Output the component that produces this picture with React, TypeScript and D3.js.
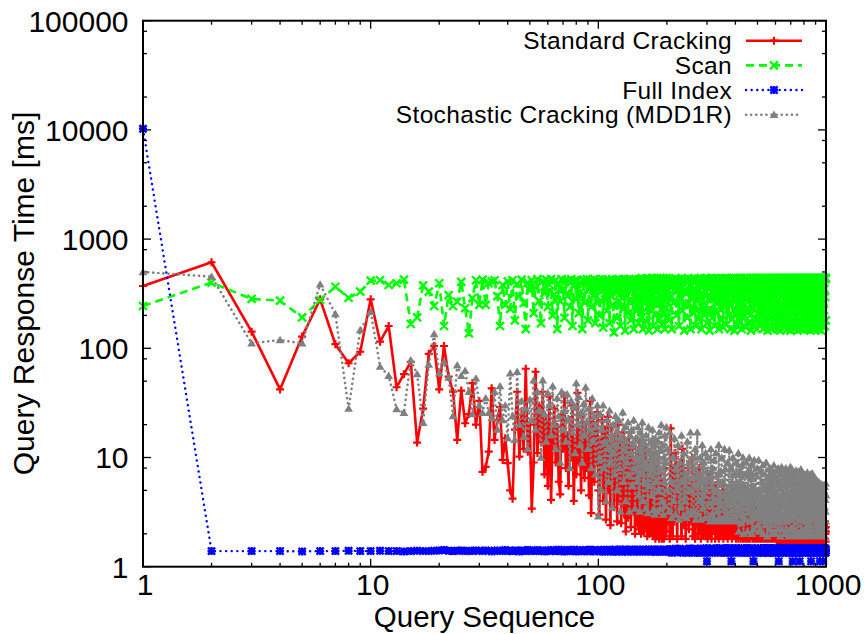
import React from "react";
import * as d3 from "d3";

// Query sequence numbers at which values were read: every query up to 200, then every 2nd query
const QUERIES: number[] = d3.range(1, 201).concat(d3.range(202, 1001, 2));

const SERIES_NAMES = ["Standard Cracking", "Scan", "Full Index", "Stochastic Cracking (MDD1R)"];

const standardCracking: number[] = [
  372, 614, 142, 42, 128, 281, 109, 73, 93, 281,
  115, 160, 44, 58, 75, 13.7, 28, 89, 105, 42,
  105, 55, 40, 14.5, 41, 20.6, 25, 48, 20, 33,
  7.4, 8.2, 11.3, 43, 14.5, 22, 29, 9.5, 15, 8.9,
  5, 4.2, 18, 40, 10.2, 25, 12, 65, 11.3, 20,
  3.4, 9, 61, 11, 30, 14, 40, 7, 22, 5.5,
  36, 4.1, 15, 28, 9, 19, 6, 4.6, 25, 12,
  37, 8, 16, 5.5, 22, 10, 30, 4.0, 14, 7,
  39, 9, 18, 5, 24, 11, 6.5, 20, 8, 15,
  4.5, 33, 3.1, 12, 21, 6, 17, 9, 26, 5,
  3.0, 14, 7, 22, 4, 11, 18, 2.7, 9, 23.6,
  5, 13, 2.4, 19, 7, 10, 3.5, 16, 6, 12,
  2.6, 20, 8, 4, 14, 2.5, 11, 5.5, 17, 3,
  9, 2.1, 13, 6.5, 2.8, 15, 4.5, 10, 2.3, 7,
  12, 3.2, 8, 5, 2.0, 9, 3.8, 11, 2.4, 6,
  2.2, 14, 4, 2.0, 8.5, 3, 10, 2.1, 6, 3.6,
  12, 2.3, 5, 1.9, 9, 2.8, 7, 2.0, 11, 4,
  2.1, 6.5, 3.2, 1.9, 10, 2.5, 4.5, 1.8, 8, 3,
  1.9, 5.5, 2.4, 9, 1.8, 3.6, 7, 2.0, 4.2, 1.8,
  6, 2.2, 3.4, 1.8, 8, 2.6, 1.9, 5, 2.1, 3.8,
  2.6, 5, 1.8, 18.5, 3.5, 1.9, 8, 2.6, 11, 4.5,
  1.8, 6, 2.8, 9, 3.4, 1.9, 12, 4, 2.4, 7,
  1.8, 5, 3, 8, 2.2, 4.5, 6, 2.6, 10, 1.9,
  4, 2.8, 1.8, 7, 3.2, 5, 2.0, 4.2, 8, 2.5,
  1.8, 4.5, 3.2, 2.0, 6, 2.8, 4.6, 1.9, 5.5, 3,
  1.8, 4.8, 2.6, 7, 2.0, 3.8, 1.8, 5.2, 3.1, 2.2,
  4.4, 2.4, 1.8, 5.6, 3.3, 2.0, 4.8, 2.7, 1.8, 4.2,
  3.5, 1.9, 4.2, 2.2, 3.0, 5.5, 1.8, 2.8, 4.5, 2.0,
  3.6, 1.9, 4.8, 2.6, 1.8, 4.0, 3.1, 2.0, 4.6, 2.3,
  2.9, 3.8, 1.8, 4.4, 2.2, 3.4, 5.2, 1.9, 2.7, 4.0,
  1.8, 3.5, 2.3, 4.2, 2.8, 1.8, 3.9, 2.4, 4.3, 2.0,
  1.8, 3.2, 4.0, 2.1, 2.9, 1.8, 3.7, 2.5, 1.9, 3.4,
  1.8, 3.9, 2.2, 3.0, 1.8, 3.6, 2.4, 2.9, 1.8, 3.5,
  2.6, 1.8, 3.8, 2.0, 3.1, 2.2, 3.4, 1.8, 2.7, 3.6,
  1.9, 2.8, 1.8, 3.3, 2.2, 3.7, 2.5, 1.8, 3.0, 2.1,
  3.4, 1.8, 2.8, 2.1, 3.6, 1.8, 3.1, 2.3, 2.6, 3.3,
  1.8, 2.9, 2.1, 3.3, 1.8, 2.5, 3.6, 2.0, 2.8, 1.8,
  3.1, 2.0, 2.6, 1.8, 3.4, 2.2, 2.9, 1.8, 2.4, 3.2,
  1.8, 2.7, 2.0, 3.5, 2.2, 3.0, 1.8, 2.6, 3.3, 1.9,
  2.5, 1.8, 3.1, 2.1, 2.8, 1.8, 3.4, 2.2, 2.6, 1.8,
  2.4, 1.8, 2.0, 1.7, 2.7, 1.8, 2.2, 1.7, 2.5, 1.8,
  1.7, 2.8, 1.8, 2.1, 1.7, 2.4, 1.8, 2.6, 1.7, 2.0,
  2.3, 1.7, 1.8, 2.7, 1.7, 2.1, 1.8, 2.4, 1.7, 2.9,
  1.8, 2.0, 1.7, 2.5, 1.8, 2.2, 1.7, 2.8, 1.8, 2.1,
  1.7, 2.4, 1.8, 2.0, 1.7, 2.6, 1.8, 2.2, 1.7, 2.5,
  1.8, 2.1, 1.7, 2.7, 1.8, 2.0, 1.7, 2.4, 1.8, 2.2,
  2.6, 1.7, 2.0, 1.8, 2.3, 1.7, 2.5, 1.8, 2.1, 1.7,
  1.8, 2.4, 1.7, 2.2, 1.8, 2.7, 1.7, 2.0, 1.8, 2.3,
  1.7, 2.1, 1.8, 2.5, 1.7, 2.2, 1.8, 2.0, 1.7, 2.6,
  2.2, 1.7, 2.4, 1.8, 2.0, 1.7, 2.3, 1.8, 2.6, 1.7,
  1.8, 2.0, 1.7, 2.4, 1.8, 2.2, 1.7, 2.5, 1.8, 2.1,
  1.7, 2.3, 1.8, 2.0, 1.7, 2.6, 1.8, 2.1, 1.7, 2.4,
  2.0, 1.8, 2.5, 1.7, 2.2, 1.8, 2.0, 1.7, 2.3, 1.8,
  1.7, 2.4, 1.8, 2.1, 1.7, 2.7, 1.8, 2.0, 1.7, 2.2,
  2.5, 1.7, 2.0, 1.8, 2.3, 1.7, 2.1, 1.8, 2.4, 1.7,
  1.8, 2.2, 1.7, 2.6, 1.8, 2.0, 1.7, 2.3, 1.8, 2.1,
  1.7, 2.4, 1.8, 2.0, 1.7, 2.2, 1.8, 2.5, 1.7, 2.0,
  2.3, 1.8, 2.1, 1.7, 2.6, 1.8, 2.0, 1.7, 2.2, 1.8,
  1.7, 2.5, 1.8, 2.0, 1.7, 2.3, 1.8, 2.1, 1.7, 2.4,
  2.0, 1.8, 2.2, 1.7, 2.6, 1.8, 2.0, 1.7, 2.3, 2.1,
];

const scan: number[] = [
  244, 400, 283, 273, 192, 277, 366, 290, 330, 416,
  420, 380, 394, 425, 167, 192, 377, 330, 244, 394,
  160, 307, 244, 267, 406, 233, 137, 288, 420, 250,
  425, 250, 394, 410, 420, 300, 160, 380, 250, 410,
  230, 420, 180, 390, 300, 425, 260, 150, 400, 340,
  420, 210, 360, 430, 270, 170, 410, 320, 425, 240,
  380, 430, 200, 310, 420, 150, 390, 270, 430, 350,
  190, 420, 300, 410, 240, 430, 160, 370, 420, 280,
  420, 210, 400, 330, 150, 425, 260, 390, 430, 180,
  350, 420, 240, 410, 300, 430, 170, 380, 260, 420,
  200, 410, 330, 430, 155, 390, 280, 425, 220, 360,
  420, 170, 400, 300, 430, 250, 140, 410, 350, 425,
  190, 380, 430, 270, 160, 420, 320, 400, 230, 430,
  145, 390, 300, 425, 210, 370, 430, 260, 180, 410,
  340, 425, 150, 400, 290, 430, 220, 380, 420, 170,
  430, 260, 410, 190, 440, 320, 150, 400, 280, 430,
  350, 420, 175, 440, 240, 390, 145, 430, 310, 410,
  220, 440, 360, 160, 420, 280, 435, 200, 390, 330,
  440, 150, 410, 260, 430, 185, 370, 440, 300, 165,
  420, 340, 440, 210, 395, 150, 430, 270, 440, 190,
  400, 180, 430, 300, 150, 420, 260, 380, 440, 200,
  350, 430, 160, 410, 280, 440, 220, 390, 145, 430,
  320, 420, 190, 440, 260, 370, 150, 430, 300, 410,
  210, 440, 340, 160, 420, 270, 435, 185, 400, 310,
  440, 150, 380, 250, 430, 200, 410, 330, 440, 170,
  360, 430, 230, 145, 420, 290, 440, 190, 400, 320,
  435, 160, 380, 260, 440, 210, 420, 300, 150, 430,
  340, 440, 180, 410, 270, 435, 155, 390, 240, 440,
  310, 420, 165, 440, 280, 400, 200, 435, 350, 150,
  430, 250, 440, 185, 380, 320, 440, 145, 420, 270,
  440, 210, 400, 160, 435, 300, 420, 230, 440, 175,
  390, 440, 150, 360, 430, 260, 440, 195, 410, 330,
  440, 155, 420, 280, 440, 220, 390, 170, 435, 310,
  430, 200, 440, 145, 400, 340, 440, 240, 420, 160,
  440, 290, 410, 180, 435, 260, 440, 150, 380, 320,
  440, 210, 430, 165, 440, 300, 420, 190, 440, 250,
  170, 440, 350, 420, 150, 430, 280, 440, 205, 395,
  440, 160, 410, 330, 440, 235, 145, 430, 300, 440,
  265, 440, 185, 420, 360, 440, 150, 405, 440, 220,
  430, 310, 155, 440, 250, 420, 440, 175, 385, 440,
  200, 440, 340, 160, 430, 440, 270, 150, 420, 360,
  440, 225, 410, 440, 145, 390, 300, 440, 190, 430,
  345, 440, 160, 420, 440, 280, 205, 440, 375, 155,
  440, 250, 430, 440, 180, 400, 320, 440, 150, 425,
  290, 440, 170, 440, 415, 230, 440, 355, 145, 440,
  210, 430, 440, 300, 165, 440, 390, 250, 440, 180,
  440, 335, 150, 425, 440, 270, 195, 440, 410, 160,
  380, 440, 240, 440, 145, 430, 305, 440, 215, 420,
  440, 175, 395, 440, 285, 150, 440, 360, 440, 230,
  165, 440, 420, 260, 440, 190, 340, 440, 150, 435,
  440, 310, 440, 200, 415, 440, 155, 370, 440, 245,
  425, 160, 440, 330, 440, 220, 440, 150, 400, 440,
  275, 440, 185, 440, 355, 430, 145, 440, 295, 440,
  205, 420, 440, 165, 390, 440, 260, 440, 150, 430,
  440, 340, 440, 230, 150, 440, 410, 440, 185, 365,
  440, 155, 435, 280, 440, 200, 440, 320, 440, 170,
  395, 440, 245, 440, 150, 425, 440, 300, 440, 210,
  440, 165, 440, 375, 440, 250, 145, 440, 330, 440,
  190, 440, 420, 440, 270, 440, 155, 405, 440, 225,
  440, 350, 440, 160, 440, 295, 430, 440, 180, 440,
];

const fullIndex: number[] = [
  10250, 1.39, 1.39, 1.39, 1.38, 1.39, 1.39, 1.40, 1.39, 1.39,
  1.40, 1.39, 1.39, 1.38, 1.39, 1.40, 1.39, 1.39, 1.40, 1.41,
  1.42, 1.40, 1.39, 1.40, 1.41, 1.39, 1.40, 1.39, 1.41, 1.40,
  1.39, 1.41, 1.40, 1.38, 1.40, 1.41, 1.39, 1.40, 1.42, 1.39,
  1.40, 1.39, 1.41, 1.40, 1.38, 1.41, 1.40, 1.39, 1.42, 1.40,
  1.41, 1.39, 1.40, 1.42, 1.39, 1.40, 1.41, 1.38, 1.40, 1.41,
  1.39, 1.42, 1.40, 1.41, 1.39, 1.40, 1.43, 1.39, 1.41, 1.40,
  1.38, 1.41, 1.42, 1.39, 1.40, 1.41, 1.39, 1.43, 1.40, 1.38,
  1.41, 1.40, 1.42, 1.39, 1.41, 1.40, 1.38, 1.42, 1.40, 1.41,
  1.39, 1.43, 1.40, 1.41, 1.38, 1.42, 1.40, 1.39, 1.41, 1.40,
  1.41, 1.38, 1.42, 1.40, 1.39, 1.43, 1.37, 1.41, 1.40, 1.42,
  1.39, 1.43, 1.38, 1.41, 1.40, 1.37, 1.42, 1.39, 1.43, 1.40,
  1.38, 1.41, 1.42, 1.39, 1.44, 1.40, 1.37, 1.42, 1.41, 1.38,
  1.43, 1.39, 1.40, 1.42, 1.37, 1.41, 1.44, 1.38, 1.40, 1.42,
  1.39, 1.43, 1.37, 1.41, 1.42, 1.38, 1.40, 1.44, 1.39, 1.41,
  1.42, 1.37, 1.43, 1.40, 1.38, 1.41, 1.44, 1.39, 1.42, 1.40,
  1.37, 1.43, 1.41, 1.38, 1.42, 1.40, 1.44, 1.39, 1.41, 1.37,
  1.43, 1.40, 1.38, 1.42, 1.41, 1.44, 1.39, 1.37, 1.42, 1.40,
  1.41, 1.38, 1.44, 1.40, 1.42, 1.37, 1.43, 1.39, 1.41, 1.38,
  1.42, 1.40, 1.37, 1.44, 1.39, 1.41, 1.43, 1.38, 1.40, 1.42,
  1.42, 1.36, 1.45, 1.39, 1.34, 1.44, 1.40, 1.37, 1.46, 1.38,
  1.43, 1.35, 1.41, 1.46, 1.37, 1.40, 1.44, 1.34, 1.42, 1.39,
  1.45, 1.38, 1.35, 1.43, 1.40, 1.47, 1.36, 1.41, 1.34, 1.44,
  1.39, 1.46, 1.35, 1.42, 1.37, 1.45, 1.38, 1.40, 1.34, 1.43,
  1.47, 1.36, 1.41, 1.34, 1.45, 1.38, 1.43, 1.35, 1.48, 1.12,
  1.34, 1.44, 1.37, 1.46, 1.40, 1.39, 1.35, 1.43, 1.38, 1.47,
  1.36, 1.42, 1.34, 1.45, 1.39, 1.48, 1.35, 1.41, 1.44, 1.37,
  1.46, 1.34, 1.40, 1.47, 1.36, 1.43, 1.38, 1.45, 1.34, 1.42,
  1.37, 1.48, 1.35, 1.41, 1.44, 1.39, 1.46, 1.34, 1.41, 1.47,
  1.35, 1.12, 1.38, 1.48, 1.34, 1.45, 1.40, 1.36, 1.47, 1.39,
  1.44, 1.34, 1.46, 1.38, 1.42, 1.35, 1.48, 1.40, 1.36, 1.45,
  1.38, 1.47, 1.34, 1.41, 1.43, 1.36, 1.46, 1.39, 1.48, 1.35,
  1.42, 1.34, 1.47, 1.38, 1.44, 1.35, 1.46, 1.40, 1.36, 1.48,
  1.34, 1.41, 1.45, 1.37, 1.43, 1.35, 1.47, 1.39, 1.34, 1.12,
  1.40, 1.36, 1.48, 1.34, 1.44, 1.38, 1.42, 1.35, 1.45, 1.37,
  1.47, 1.34, 1.42, 1.36, 1.46, 1.38, 1.35, 1.44, 1.48, 1.40,
  1.35, 1.45, 1.38, 1.47, 1.34, 1.43, 1.40, 1.36, 1.48, 1.41,
  1.44, 1.36, 1.48, 1.35, 1.42, 1.39, 1.46, 1.34, 1.41, 1.45,
  1.38, 1.47, 1.34, 1.44, 1.40, 1.36, 1.48, 1.35, 1.43, 1.39,
  1.46, 1.34, 1.41, 1.48, 1.37, 1.44, 1.35, 1.42, 1.47, 1.38,
  1.34, 1.45, 1.39, 1.36, 1.48, 1.41, 1.35, 1.46, 1.40, 1.12,
  1.43, 1.35, 1.47, 1.38, 1.44, 1.34, 1.46, 1.40, 1.36, 1.48,
  1.37, 1.44, 1.34, 1.46, 1.39, 1.48, 1.35, 1.42, 1.45, 1.36,
  1.47, 1.35, 1.41, 1.44, 1.34, 1.48, 1.38, 1.36, 1.46, 1.40,
  1.34, 1.46, 1.39, 1.48, 1.35, 1.43, 1.41, 1.47, 1.36, 1.44,
  1.40, 1.35, 1.48, 1.37, 1.45, 1.34, 1.12, 1.39, 1.47, 1.36,
  1.45, 1.38, 1.34, 1.47, 1.41, 1.36, 1.48, 1.35, 1.43, 1.39,
  1.36, 1.48, 1.42, 1.34, 1.46, 1.39, 1.37, 1.45, 1.35, 1.47,
  1.44, 1.34, 1.12, 1.40, 1.48, 1.36, 1.43, 1.38, 1.46, 1.35,
  1.39, 1.47, 1.35, 1.45, 1.34, 1.48, 1.41, 1.37, 1.44, 1.36,
  1.48, 1.35, 1.43, 1.38, 1.46, 1.34, 1.40, 1.47, 1.36, 1.44,
  1.35, 1.45, 1.39, 1.48, 1.37, 1.42, 1.34, 1.46, 1.40, 1.38,
  1.46, 1.36, 1.48, 1.34, 1.43, 1.39, 1.47, 1.35, 1.44, 1.12,
  1.38, 1.48, 1.35, 1.45, 1.41, 1.34, 1.46, 1.37, 1.48, 1.36,
  1.44, 1.34, 1.47, 1.39, 1.36, 1.48, 1.35, 1.42, 1.45, 1.38,
  1.36, 1.46, 1.40, 1.34, 1.48, 1.37, 1.44, 1.35, 1.47, 1.41,
  1.47, 1.35, 1.42, 1.48, 1.34, 1.45, 1.38, 1.36, 1.46, 1.12,
  1.39, 1.48, 1.34, 1.44, 1.37, 1.47, 1.35, 1.43, 1.40, 1.46,
  1.34, 1.45, 1.38, 1.48, 1.36, 1.12, 1.46, 1.35, 1.42, 1.47,
  1.44, 1.36, 1.48, 1.35, 1.43, 1.39, 1.47, 1.34, 1.45, 1.40,
];

const stochasticCracking: number[] = [
  500, 453, 111, 119, 111, 385, 206, 28, 147, 216,
  68, 56, 27.8, 25.7, 78, 58, 20.8, 71, 135, 59,
  75, 54, 24, 70, 56, 62.5, 40, 25, 53, 30,
  25.7, 35, 25.7, 23, 40, 18, 45, 22, 30, 15,
  59, 24, 14.5, 61, 20, 33, 15.5, 28, 12, 34,
  22, 51, 18, 40, 27, 10, 51, 25, 14, 39,
  30, 16, 45, 20, 12, 35, 24, 9, 40, 18,
  27, 14, 38, 22, 8, 33, 17, 29, 11, 48,
  20, 36, 13, 26, 9, 31, 16, 44, 21, 12,
  28, 18, 8, 35, 14, 24, 7, 19, 30, 2.9,
  10, 25, 5, 18, 30, 8, 14, 4, 22, 12,
  6, 27, 9, 16, 3.5, 20, 11, 7, 24, 13,
  5, 17, 22, 8, 3.2, 15, 10, 26, 6, 12,
  19, 4, 14, 9, 21, 7, 3.2, 16, 11, 18,
  5.5, 13, 22, 8, 3.4, 15, 10, 6, 19, 4.5,
  12, 3.2, 17, 7, 10, 21, 4, 14, 6, 9,
  3.4, 16, 8, 12, 3.1, 19, 5.5, 11, 7, 14,
  4.5, 10, 18, 3.3, 8, 13, 3.0, 15, 6, 11,
  9, 3.2, 14, 5, 17, 7.5, 3.4, 12, 20, 4,
  8, 13, 3.0, 10, 6, 16, 3.6, 9, 19, 5,
  12, 3.2, 17, 6, 2.8, 10, 4, 15, 3.0, 8,
  5, 13, 2.7, 9, 3.5, 16, 6, 2.9, 11, 4,
  7, 2.8, 14, 3.2, 9, 5, 17, 3.0, 6.5, 10,
  3.2, 8, 12, 2.7, 5.5, 17, 3.0, 7, 4, 10,
  2.7, 6, 13, 3.4, 9, 4.5, 2.8, 11, 5, 7.5,
  2.8, 10, 3.8, 6.5, 2.6, 12, 5.5, 3, 8, 2.7,
  9.5, 4.2, 2.6, 11, 5, 3.2, 7, 2.7, 13, 4,
  2.6, 7.5, 3.6, 10, 2.7, 6, 4.4, 2.8, 12, 3.4,
  7.8, 2.6, 5, 3.9, 9, 2.7, 4.6, 11.7, 3.1, 5.6,
  2.6, 8, 4, 3.3, 10, 2.6, 5.4, 3.6, 7, 2.9,
  4.8, 9, 2.6, 5.8, 3.5, 11, 2.1, 4.4, 7.4, 3.2,
  5.2, 2.5, 8.5, 4.1, 3, 10, 2.0, 5.6, 3.8, 7,
  2.7, 4.6, 9, 3.4, 5.2, 2.1, 7.5, 4, 3.1, 10,
  4.8, 2.6, 6.8, 3.6, 8.5, 2.0, 4.4, 7, 3, 5.4,
  2.2, 9.5, 3.8, 5, 2.8, 7, 4.2, 3.2, 8, 2.4,
  4.6, 3.4, 9.5, 2.1, 5, 3.6, 2.2, 7.5, 3, 4.2,
  2.8, 6, 3.4, 8.5, 2.0, 5.2, 4, 2.6, 7, 3.8,
  5.6, 2.4, 9, 3.2, 4.6, 1.9, 6.5, 3.6, 2.7, 7.8,
  3.1, 5.4, 2.2, 8, 4.2, 2.9, 6.2, 3.5, 2.0, 5,
  7.2, 2.6, 4.4, 3.3, 8.5, 2.1, 5.6, 3.8, 2.8, 6.6,
  2.0, 4.8, 7.5, 3.2, 2.6, 5.8, 3.6, 8, 2.2, 4.2,
  6, 2.8, 3.9, 7, 1.9, 5.2, 3.4, 2.6, 8.2, 4,
  3, 6.4, 2.2, 4.6, 7.6, 2.9, 3.7, 5.5, 2.0, 6.8,
  4.4, 2.6, 8, 3.5, 2.1, 5.8, 3.1, 7, 2.7, 4.8,
  6.2, 3.3, 1.9, 7.4, 4.1, 2.8, 5.5, 3.6, 8.2, 2.2,
  3.8, 6.6, 2.7, 4.5, 7.8, 3.1, 2.0, 5.6, 3.4, 6.9,
  2.3, 4.9, 7.2, 3.3, 1.9, 6, 3.7, 2.8, 7.6, 4.3,
  5.4, 2.1, 3.9, 6.8, 2.9, 4.6, 7.4, 3.2, 2.0, 5.8,
  3.5, 7, 2.7, 4.2, 6.2, 1.9, 3.8, 7.8, 3, 5,
  2.2, 6.4, 4, 2.6, 7.2, 3.4, 5.2, 2.0, 6.6, 3.7,
  4.8, 2.7, 7, 3.6, 1.9, 5.9, 4.1, 3, 6.8, 2.3,
  5.6, 3.3, 2.0, 7.3, 4.4, 2.8, 6.1, 3.5, 2.1, 5,
  3.9, 6.6, 2.4, 4.6, 3.1, 7, 1.9, 5.4, 3.7, 2.9,
  6.3, 3.4, 2.1, 5.1, 7.2, 2.8, 4.2, 3.2, 6, 2.0,
  4.5, 2.7, 6.7, 3.6, 1.9, 5.6, 3.9, 6.4, 2.4, 4.1,
  3.2, 5.8, 2.2, 4.7, 6.2, 2.9, 3.6, 5.2, 1.9, 4.4,
  6, 3.1, 2.3, 5.4, 3.8, 2.0, 5.9, 3.4, 4.6, 2.6,
  3.6, 5.5, 2.1, 4.3, 3.1, 5.7, 1.9, 4.9, 3.5, 2.4,
  5.2, 3, 4.6, 2.2, 5.6, 3.7, 2.0, 4.4, 3.3, 5,
  2.3, 4.8, 3.5, 5.4, 1.9, 4.1, 3.2, 5.8, 2.6, 4.5,
];

const Y_TICKS = [1, 10, 100, 1000, 10000, 100000];
const Y_TICK_LABELS = ["1", "10", "100", "1000", "10000", "100000"];
const X_TICKS = [1, 10, 100, 1000];
const X_TICK_LABELS = ["1", "10", "100", "1000"];

const W = 865, H = 634;
const L = 143, R = 826, T = 20.7, B = 566.7;
const FONT = "'Liberation Sans', Arial, Helvetica, sans-serif";

type MarkerKind = "plus" | "cross" | "star" | "tri";

function markerPath(kind: MarkerKind, x: number, y: number): string {
  const s = 4;
  if (kind === "plus") return `M${x - s},${y}H${x + s}M${x},${y - s}V${y + s}`;
  if (kind === "cross") return `M${x - s},${y - s}L${x + s},${y + s}M${x - s},${y + s}L${x + s},${y - s}`;
  if (kind === "star") {
    const t = 3.6;
    return `M${x - s},${y}H${x + s}M${x},${y - s}V${y + s}M${x - t},${y - t}L${x + t},${y + t}M${x - t},${y + t}L${x + t},${y - t}`;
  }
  return `M${x},${y - 4.2}L${x + 4.4},${y + 3.2}L${x - 4.4},${y + 3.2}Z`;
}

const STYLES = [
  { color: "#ff0000", width: 2.6, dash: "none", marker: "plus" as MarkerKind, mw: 2.2 },
  { color: "#00ff00", width: 2.6, dash: "8 5", marker: "cross" as MarkerKind, mw: 2.4 },
  { color: "#0000ff", width: 2.4, dash: "0.1 5.5", marker: "star" as MarkerKind, mw: 2.4 },
  { color: "#808080", width: 2.6, dash: "0.1 5", marker: "tri" as MarkerKind, mw: 0 },
];

export default function App() {
  const x = d3.scaleLog().domain([1, 1000]).range([L, R]);
  const y = d3.scaleLog().domain([1, 100000]).range([B, T]);
  const seriesValues = [standardCracking, scan, fullIndex, stochasticCracking];

  const minorY: number[] = [];
  Y_TICKS.slice(0, -1).forEach((d) => [2, 5, 8].forEach((m) => minorY.push(d * m)));
  const minorX: number[] = [];
  X_TICKS.slice(0, -1).forEach((d) => d3.range(2, 10).forEach((m) => minorX.push(d * m)));

  const line = d3
    .line<[number, number]>()
    .x((d) => x(d[0]))
    .y((d) => y(d[1]));

  const legendRows = [40.7, 65.4, 90, 114.7];

  return (
    <svg width={W} height={H} style={{ position: "absolute", left: 0, top: 0, background: "#fff" }} fontFamily={FONT}>
      <rect x={0} y={0} width={W} height={H} fill="#fff" />
      <g stroke="#000" strokeWidth={1.3}>
        {Y_TICKS.map((t) => (
          <g key={"y" + t}>
            <line x1={L} x2={L + 8} y1={y(t)} y2={y(t)} />
            <line x1={R} x2={R - 8} y1={y(t)} y2={y(t)} />
          </g>
        ))}
        {minorY.map((t) => (
          <g key={"ym" + t}>
            <line x1={L} x2={L + 4} y1={y(t)} y2={y(t)} />
            <line x1={R} x2={R - 4} y1={y(t)} y2={y(t)} />
          </g>
        ))}
        {X_TICKS.map((t) => (
          <g key={"x" + t}>
            <line x1={x(t)} x2={x(t)} y1={B} y2={B - 8} />
            <line x1={x(t)} x2={x(t)} y1={T} y2={T + 8} />
          </g>
        ))}
        {minorX.map((t) => (
          <g key={"xm" + t}>
            <line x1={x(t)} x2={x(t)} y1={B} y2={B - 4} />
            <line x1={x(t)} x2={x(t)} y1={T} y2={T + 4} />
          </g>
        ))}
      </g>
      <g fontSize={30} fill="#000">
        {Y_TICKS.map((t, i) => (
          <text key={"yl" + t} x={128.5} y={y(t) + 10.8} textAnchor="end">
            {Y_TICK_LABELS[i]}
          </text>
        ))}
        {X_TICKS.map((t, i) => (
          <text key={"xl" + t} x={x(t) + 2} y={595} textAnchor="middle">
            {X_TICK_LABELS[i]}
          </text>
        ))}
      </g>
      <text x={484.5} y={627} fontSize={29.5} textAnchor="middle" fill="#000">
        Query Sequence
      </text>
      <text transform={`translate(34,${293.5}) rotate(-90)`} fontSize={30} textAnchor="middle" fill="#000">
        Query Response Time [ms]
      </text>
      <g>
        {seriesValues.map((vals, si) => {
          const st = STYLES[si];
          const n = Math.min(vals.length, QUERIES.length);
          const pts: [number, number][] = [];
          for (let i = 0; i < n; i++) pts.push([QUERIES[i], vals[i]]);
          const markers = pts.map((p) => markerPath(st.marker, x(p[0]), y(p[1]))).join("");
          return (
            <g key={"s" + si}>
              <path
                d={line(pts) || ""}
                fill="none"
                stroke={st.color}
                strokeWidth={st.width}
                strokeDasharray={st.dash}
                strokeLinecap={st.dash.startsWith("0.1") ? "round" : "butt"}
                strokeLinejoin="round"
              />
              <path
                d={markers}
                fill={st.marker === "tri" ? st.color : "none"}
                stroke={st.marker === "tri" ? "none" : st.color}
                strokeWidth={st.mw}
              />
            </g>
          );
        })}
      </g>
      <g fontSize={24.5} fill="#000" letterSpacing={0.35}>
        {SERIES_NAMES.map((name, i) => {
          const st = STYLES[i];
          const yy = legendRows[i];
          return (
            <g key={"lg" + i}>
              <text x={732} y={yy + 8.6} textAnchor="end">
                {name}
              </text>
              <line
                x1={746}
                x2={802}
                y1={yy}
                y2={yy}
                stroke={st.color}
                strokeWidth={st.width}
                strokeDasharray={st.dash}
                strokeLinecap={st.dash.startsWith("0.1") ? "round" : "butt"}
              />
              <path
                d={markerPath(st.marker, 774, yy)}
                fill={st.marker === "tri" ? st.color : "none"}
                stroke={st.marker === "tri" ? "none" : st.color}
                strokeWidth={st.mw}
              />
            </g>
          );
        })}
      </g>
      <rect x={L} y={T} width={R - L} height={B - T} fill="none" stroke="#000" strokeWidth={2} />
    </svg>
  );
}
